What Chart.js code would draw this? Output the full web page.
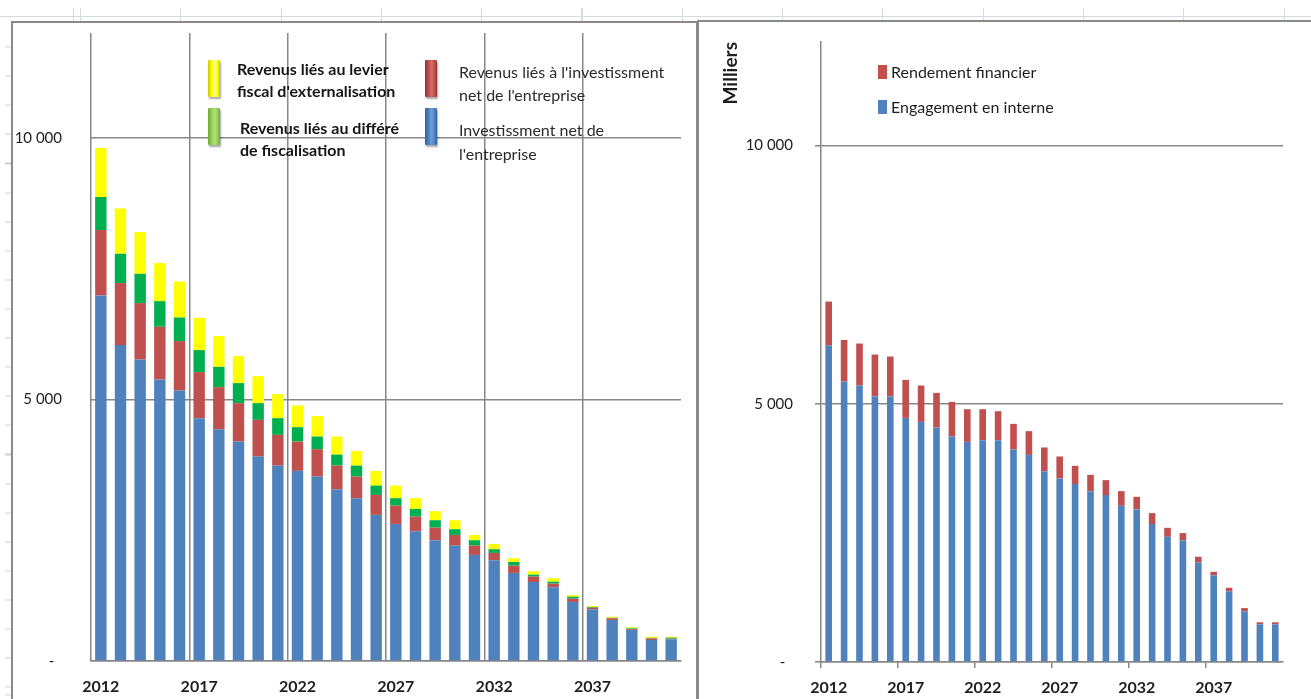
<!DOCTYPE html>
<html lang="fr">
<head>
<meta charset="utf-8">
<title>Revenus et engagement</title>
<script src="https://cdn.jsdelivr.net/npm/chart.js@4.4.1/dist/chart.umd.min.js"></script>
<style>
  html, body { margin: 0; padding: 0; }
  body {
    width: 1311px; height: 699px; overflow: hidden; position: relative;
    background-color: #fff;
    font-family: Lato, "Open Sans", sans-serif;
  }
  /* spreadsheet cells peeking out around the charts */
  .sheet-top {
    position: absolute; left: 0; top: 8px; width: 1311px; height: 14px;
    background-image:
      linear-gradient(to bottom, transparent 8px, #d5dae3 8px, #d5dae3 9px, transparent 9px),
      repeating-linear-gradient(to right, #d5dae3 0, #d5dae3 1px, transparent 1px, transparent 100.3px);
    background-position: 0 0, 80px 0;
  }
  .sheet-left {
    position: absolute; left: 5px; top: 22px; width: 7px; height: 677px;
    background-image:
      repeating-linear-gradient(to bottom, #c9ced8 0, #c9ced8 1px, transparent 1px, transparent 29.1px);
    background-position: 0 -4.5px;
  }
  .card {
    position: absolute; box-sizing: border-box; background: #fff;
    border: 2px solid #8a8a8a;
  }
  #card-left { left: 11px; top: 21px; width: 687px; height: 700px; }
  #card-right { left: 697px; top: 20px; width: 640px; height: 700px; }
  canvas { position: absolute; }
  #chart-left { left: 14px; top: 24px; }
  #chart-right { left: 700px; top: 23px; }
  .swatch { position: absolute; }
  .swatch.tall {
    width: 12px; height: 37px; border-radius: 1px;
    box-shadow: 1px 2px 2px rgba(0,0,0,0.35);
  }
  .swatch.small { width: 9px; height: 14px; }
  .legend-text { position: absolute; white-space: nowrap; }
</style>
</head>
<body>
<div class="sheet-top"></div>
<div class="sheet-left"></div>
<div class="card" id="card-left"></div>
<div class="card" id="card-right"></div>
<canvas id="chart-left" width="680" height="675"></canvas>
<canvas id="chart-right" width="611" height="676"></canvas>
<div id="legend-left"></div>
<div id="legend-right"></div>

<script>
// years on both charts
const years = [2012, 2013, 2014, 2015, 2016, 2017, 2018, 2019, 2020, 2021,
               2022, 2023, 2024, 2025, 2026, 2027, 2028, 2029, 2030, 2031,
               2032, 2033, 2034, 2035, 2036, 2037, 2038, 2039, 2040, 2041];

// left chart, stacked from the bottom up
const investNet = [6985, 6036, 5761, 5379, 5168, 4640, 4430, 4193, 3906, 3734,
                   3633, 3524, 3283, 3111, 2792, 2619, 2480, 2308, 2205, 2027,
                   1925, 1683, 1510, 1409, 1128, 988, 784, 593, 402, 415];
const revenusInvest = [1250, 1186, 1078, 1007, 945, 880, 803, 734, 702, 587,
                       560, 524, 451, 413, 382, 350, 279, 241, 204, 178,
                       140, 139, 102, 69, 63, 31, 32, 15, 30, 10];
const revenusDiffere = [631, 560, 560, 491, 451, 421, 388, 383, 319, 319,
                        275, 241, 210, 210, 178, 142, 147, 141, 109, 103,
                        71, 71, 38, 38, 38, 13, 10, 16, 10, 20];
const revenusLevier = [937, 866, 798, 727, 688, 617, 587, 516, 516, 459,
                       413, 390, 345, 281, 281, 241, 205, 172, 172, 101,
                       101, 71, 65, 65, 33, 20, 21, 20, 23, 20];

// right chart
const engagementInterne = [6125, 5429, 5351, 5139, 5139, 4725, 4647, 4539, 4365, 4261,
                           4293, 4293, 4114, 4009, 3694, 3553, 3443, 3307, 3230, 3023,
                           2953, 2669, 2423, 2353, 1928, 1677, 1367, 981, 729, 729];
const rendementFinancier = [851, 804, 813, 812, 773, 735, 704, 669, 669, 632,
                            600, 561, 495, 459, 458, 425, 354, 315, 290, 284,
                            244, 213, 174, 142, 109, 69, 70, 63, 39, 39];

const yTicks = [0, 5000, 10000];

const GRID = '#878787';
const TEXT = '#1e1e1e';
const FONT = 'Lato, "Open Sans", sans-serif';

function formatMilliers(v) {
    if (v === 0) return '-  ';
    return String(v).replace(/\B(?=(\d{3})+(?!\d))/g, ' ');
}

function keepMajorTicks(axis) {
    axis.ticks = yTicks.map(v => ({ value: v }));
}

// fixed axis width; the label padding must not push the plot area down
function fixedWidth(w) {
    return scale => {
        scale.width = w;
        scale.paddingTop = 0;
        scale.paddingBottom = 0;
    };
}

const yearTick = (value, index) => index % 5 === 0 ? String(years[index]) : '';
const everyFifth = ctx => ctx.index % 5 === 0 ? GRID : 'rgba(0,0,0,0)';

const leftChart = new Chart(document.getElementById('chart-left'), {
    type: 'bar',
    data: {
        labels: years,
        datasets: [
            { label: "Investissment net de l'entreprise", data: investNet, backgroundColor: '#4f81bd' },
            { label: "Revenus liés à l'investissment net de l'entreprise", data: revenusInvest, backgroundColor: '#c0504d' },
            { label: 'Revenus liés au différé de fiscalisation', data: revenusDiffere, backgroundColor: '#00b050' },
            { label: "Revenus liés au levier fiscal d'externalisation", data: revenusLevier, backgroundColor: '#ffff00' }
        ]
    },
    options: {
        responsive: false,
        animation: false,
        layout: { padding: { top: 9, right: 13, bottom: 0, left: 0 } },
        datasets: { bar: { barPercentage: 0.58, categoryPercentage: 1 } },
        plugins: { legend: { display: false }, tooltip: { enabled: false } },
        scales: {
            x: {
                stacked: true,
                grid: { offset: true, drawTicks: false, color: everyFifth, lineWidth: 1.5 },
                border: { color: GRID, width: 1.5 },
                ticks: {
                    autoSkip: false, maxRotation: 0, padding: 16,
                    callback: yearTick,
                    color: TEXT, font: { family: FONT, size: 16, weight: 'bold' }
                },
                afterFit: s => { s.height = 38; }
            },
            y: {
                stacked: true,
                min: 0,
                max: 12000,
                afterBuildTicks: keepMajorTicks,
                grid: { drawTicks: false, color: GRID, lineWidth: 1.5 },
                border: { display: false },
                ticks: {
                    padding: 29,
                    callback: formatMilliers,
                    color: TEXT, font: { family: FONT, size: 15 }
                },
                afterFit: fixedWidth(77)
            }
        }
    }
});

const rightChart = new Chart(document.getElementById('chart-right'), {
    type: 'bar',
    data: {
        labels: years,
        datasets: [
            { label: 'Engagement en interne', data: engagementInterne, backgroundColor: '#4f81bd' },
            { label: 'Rendement financier', data: rendementFinancier, backgroundColor: '#c0504d' }
        ]
    },
    options: {
        responsive: false,
        animation: false,
        layout: { padding: { top: 19, right: 28, bottom: 0, left: 0 } },
        datasets: { bar: { barPercentage: 0.43, categoryPercentage: 1 } },
        plugins: { legend: { display: false }, tooltip: { enabled: false } },
        scales: {
            x: {
                stacked: true,
                grid: { offset: true, drawOnChartArea: false, tickLength: 6, color: everyFifth, lineWidth: 1.5 },
                border: { color: GRID, width: 1.5 },
                ticks: {
                    autoSkip: false, maxRotation: 0, padding: 10,
                    callback: yearTick,
                    color: TEXT, font: { family: FONT, size: 16, weight: 'bold' }
                },
                afterFit: s => { s.height = 37; }
            },
            y: {
                stacked: true,
                min: 0,
                max: 12000,
                afterBuildTicks: keepMajorTicks,
                grid: { tickLength: 6, color: GRID, lineWidth: 1.5 },
                border: { color: GRID, width: 1.5 },
                title: {
                    display: true, text: 'Milliers', align: 'end',
                    padding: { top: 19, bottom: 0 },
                    color: TEXT, font: { family: FONT, size: 19, weight: 'bold' }
                },
                ticks: {
                    padding: 22,
                    callback: formatMilliers,
                    color: TEXT, font: { family: FONT, size: 15 }
                },
                afterFit: fixedWidth(121)
            }
        }
    }
});

// legend boxes, laid out the way the spreadsheet placed them
const leftLegendLayout = [
    { ds: 3, sx: 208, sy: 60, tx: 237, ty: 58, lh: 22, bold: true,
      lines: ['Revenus liés au levier', "fiscal d'externalisation"],
      fill: 'linear-gradient(to right, #c9c900, #ffff00 30%, #ffff8a 55%, #ffff00 80%, #c9c900)' },
    { ds: 1, sx: 425, sy: 60, tx: 459, ty: 60, lh: 23, bold: false,
      lines: ["Revenus liés à l'investissment", "net de l'entreprise"],
      fill: 'linear-gradient(to right, #8f2f2d, #c0504d 30%, #da6a67 55%, #c0504d 80%, #8f2f2d)' },
    { ds: 2, sx: 208, sy: 108, tx: 240, ty: 117, lh: 22, bold: true,
      lines: ['Revenus liés au différé', 'de fiscalisation'],
      fill: 'linear-gradient(to right, #6fa83a, #92d050 30%, #b4e07f 55%, #92d050 80%, #6fa83a)' },
    { ds: 0, sx: 425, sy: 108, tx: 459, ty: 118, lh: 24, bold: false,
      lines: ['Investissment net de', "l'entreprise"],
      fill: 'linear-gradient(to right, #2f5f9e, #4f81bd 30%, #6f9ddb 55%, #4f81bd 80%, #2f5f9e)' }
];

const rightLegendLayout = [
    { ds: 1, sx: 878, sy: 65, tx: 891, ty: 62 },
    { ds: 0, sx: 878, sy: 100, tx: 891, ty: 97 }
];

function buildLegend(containerId, chart, layout, tall) {
    const box = document.getElementById(containerId);
    layout.forEach(item => {
        const ds = chart.data.datasets[item.ds];
        const sw = document.createElement('div');
        sw.className = 'swatch ' + (tall ? 'tall' : 'small');
        sw.style.left = item.sx + 'px';
        sw.style.top = item.sy + 'px';
        sw.style.background = item.fill || ds.backgroundColor;
        box.appendChild(sw);

        const txt = document.createElement('div');
        txt.className = 'legend-text';
        txt.style.left = item.tx + 'px';
        txt.style.top = item.ty + 'px';
        if (tall) {
            txt.style.fontSize = '16px';
            txt.style.lineHeight = item.lh + 'px';
            txt.style.fontWeight = item.bold ? '700' : '400';
            txt.style.color = item.bold ? '#151515' : '#2b2b2b';
            txt.innerHTML = item.lines.join('<br>');
        } else {
            txt.style.fontSize = '16px';
            txt.style.lineHeight = '20px';
            txt.style.color = '#1e1e1e';
            txt.textContent = ds.label;
        }
        box.appendChild(txt);
    });
}

buildLegend('legend-left', leftChart, leftLegendLayout, true);
buildLegend('legend-right', rightChart, rightLegendLayout, false);
</script>
</body>
</html>
